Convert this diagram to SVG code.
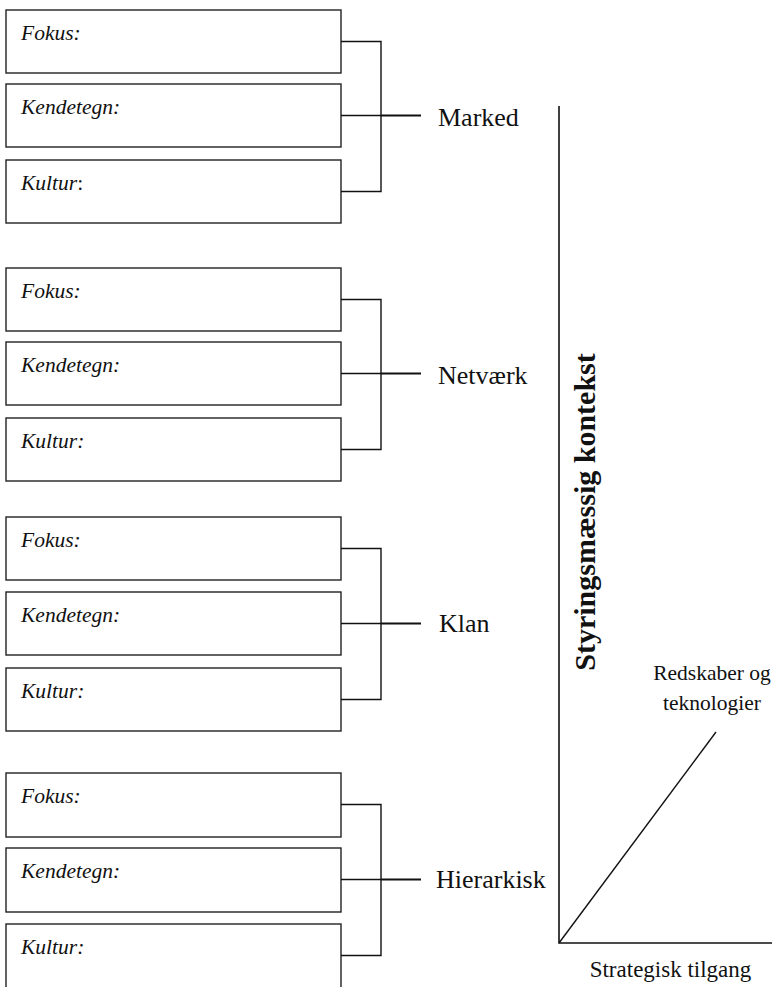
<svg xmlns="http://www.w3.org/2000/svg" width="779" height="987" viewBox="0 0 779 987">
<style>
.box{fill:#fff;stroke:#222;stroke-width:1.4}
.lbl{font-family:"Liberation Serif","Times New Roman",serif;font-style:italic;font-size:21.5px;fill:#111}
.name{font-family:"Liberation Serif","Times New Roman",serif;font-size:26px;fill:#111}
.ln{stroke:#111;stroke-width:1.4;fill:none}
.ln2{stroke:#111;stroke-width:2;fill:none}
.ax{stroke:#111;stroke-width:1.6;fill:none}
</style>
<rect width="779" height="987" fill="#fff"/>
<g id="marked">
  <g id="marked-fokus"><rect class="box" x="6" y="10" width="335" height="63"/><text class="lbl" x="21" y="39.5">Fokus:</text></g>
  <g id="marked-kendetegn"><rect class="box" x="6" y="84" width="335" height="63"/><text class="lbl" x="21" y="113.5">Kendetegn:</text></g>
  <g id="marked-kultur"><rect class="box" x="6" y="160" width="335" height="63"/><text class="lbl" x="21" y="189.5">Kultur<tspan font-style="normal">:</tspan></text></g>
  <text class="name" x="438" y="126">Marked</text>
</g>
<g id="netvaerk">
  <g id="netvaerk-fokus"><rect class="box" x="6" y="268" width="335" height="63"/><text class="lbl" x="21" y="297.5">Fokus:</text></g>
  <g id="netvaerk-kendetegn"><rect class="box" x="6" y="342" width="335" height="63"/><text class="lbl" x="21" y="371.5">Kendetegn:</text></g>
  <g id="netvaerk-kultur"><rect class="box" x="6" y="418" width="335" height="63"/><text class="lbl" x="21" y="447.5">Kultur:</text></g>
  <text class="name" x="438" y="384">Netværk</text>
</g>
<g id="klan">
  <g id="klan-fokus"><rect class="box" x="6" y="517" width="335" height="63"/><text class="lbl" x="21" y="546.5">Fokus:</text></g>
  <g id="klan-kendetegn"><rect class="box" x="6" y="592" width="335" height="63"/><text class="lbl" x="21" y="621.5">Kendetegn:</text></g>
  <g id="klan-kultur"><rect class="box" x="6" y="668" width="335" height="63"/><text class="lbl" x="21" y="697.5">Kultur:</text></g>
  <text class="name" x="439" y="632">Klan</text>
</g>
<g id="hierarkisk">
  <g id="hierarkisk-fokus"><rect class="box" x="6" y="773" width="335" height="64"/><text class="lbl" x="21" y="803">Fokus:</text></g>
  <g id="hierarkisk-kendetegn"><rect class="box" x="6" y="848" width="335" height="64"/><text class="lbl" x="21" y="878">Kendetegn:</text></g>
  <g id="hierarkisk-kultur"><rect class="box" x="6" y="924" width="335" height="70"/><text class="lbl" x="21" y="954">Kultur:</text></g>
  <text class="name" x="436" y="888">Hierarkisk</text>
</g>
<g id="connectors">
  <path class="ln" d="M341 41.5H381V191.5H341M341 115.5H381"/>
  <path class="ln2" d="M381 115.5H421"/>
  <path class="ln" d="M341 299.5H381V449.5H341M341 373.5H381"/>
  <path class="ln2" d="M381 373.5H421"/>
  <path class="ln" d="M341 548.5H381V699.5H341M341 623.5H381"/>
  <path class="ln2" d="M381 623.5H421"/>
  <path class="ln" d="M341 804.5H381V955.5H341M341 879.5H381"/>
  <path class="ln2" d="M381 879.5H421"/>
</g>
<g id="axes">
  <path class="ax" d="M559 106V943H772"/>
  <path class="ln" d="M559 943L716 732"/>
  <text font-family="Liberation Serif,'Times New Roman',serif" font-weight="bold" font-size="30" fill="#111" text-anchor="middle" transform="translate(595 512) rotate(-90)">Styringsmæssig kontekst</text>
  <text font-family="Liberation Serif,'Times New Roman',serif" font-size="21.5" fill="#111" text-anchor="middle" x="712" y="680">Redskaber og</text>
  <text font-family="Liberation Serif,'Times New Roman',serif" font-size="21.5" fill="#111" text-anchor="middle" x="712" y="710">teknologier</text>
  <text font-family="Liberation Serif,'Times New Roman',serif" font-size="23" fill="#111" text-anchor="middle" x="670.5" y="977">Strategisk tilgang</text>
</g>
</svg>
